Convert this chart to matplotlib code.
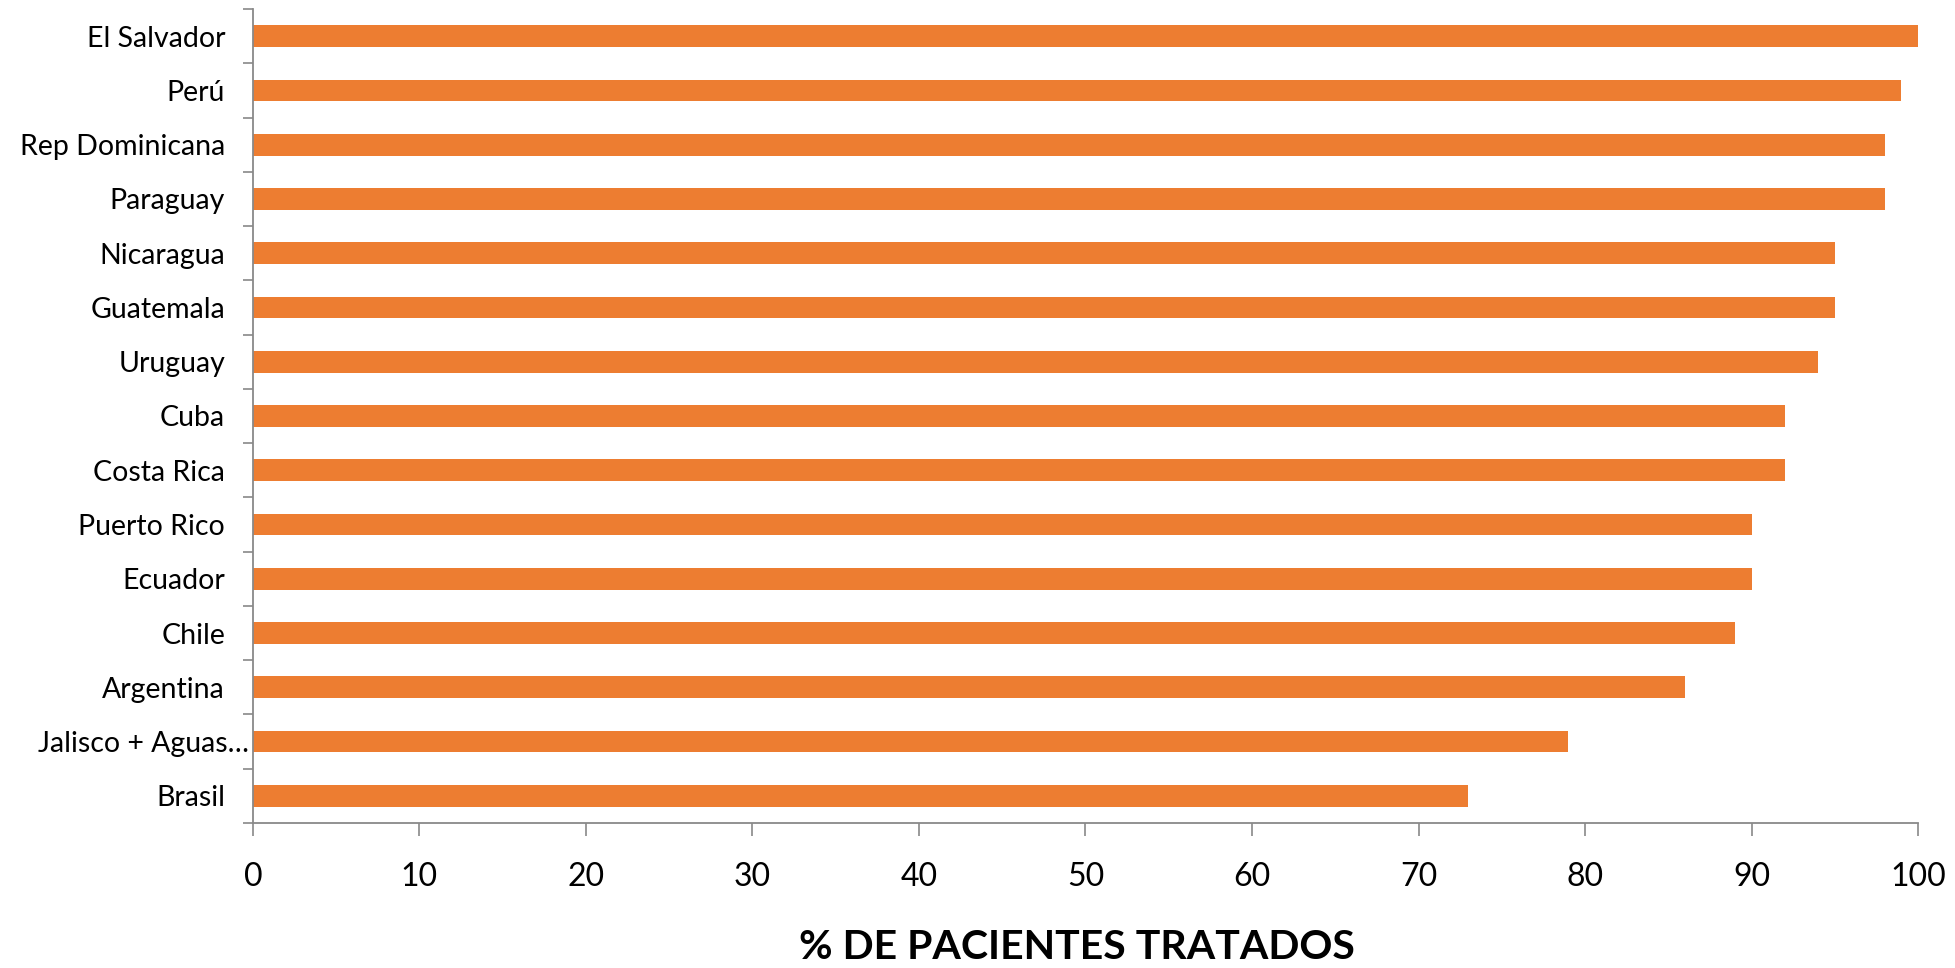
import numpy as np
import matplotlib
matplotlib.use('Agg')
import matplotlib.pyplot as plt
from matplotlib.transforms import ScaledTranslation

# data (top to bottom as shown)
paises = ['El Salvador', 'Perú', 'Rep Dominicana', 'Paraguay', 'Nicaragua',
          'Guatemala', 'Uruguay', 'Cuba', 'Costa Rica', 'Puerto Rico',
          'Ecuador', 'Chile', 'Argentina', 'Jalisco + Aguas…', 'Brasil']
tratados = [100, 99, 98, 98, 95, 95, 94, 92, 92, 90, 90, 89, 86, 79, 73]
x_ticks = list(range(0, 101, 10))

plt.rcParams['font.family'] = ['Lato', 'DejaVu Sans']

fig = plt.figure(figsize=(19.56, 9.68), dpi=100)
ax = fig.add_axes([0.1293, 0.1498, 0.9806 - 0.1293, 0.9907 - 0.1498])

ypos = np.arange(len(paises))[::-1]
ax.barh(ypos, tratados, height=0.4, color='#ED7D31', zorder=2)

ax.set_xlim(0, 100)
ax.set_ylim(-0.5, len(paises) - 0.5)

# category labels at centers, tick marks on boundaries
ax.set_yticks(ypos)
ax.set_yticklabels(paises, fontsize=20.5)
ax.tick_params(axis='y', which='major', length=0, pad=20)
ax.set_yticks(np.arange(-0.5, len(paises), 1.0), minor=True)
ax.tick_params(axis='y', which='minor', length=7, width=1.2, color='#898989')

# the truncated label sits closer to the axis
for lbl in ax.get_yticklabels():
    if lbl.get_text().startswith('Jalisco'):
        lbl.set_transform(lbl.get_transform() + ScaledTranslation(17 / 72, 0, fig.dpi_scale_trans))

ax.set_xticks(x_ticks)
ax.set_xticklabels([str(v) for v in x_ticks], fontsize=23)
ax.tick_params(axis='x', length=9, width=1.2, color='#898989', pad=19)

for side in ['top', 'right']:
    ax.spines[side].set_visible(False)
for side in ['left', 'bottom']:
    ax.spines[side].set_color('#898989')
    ax.spines[side].set_linewidth(1.3)

ax.set_xlabel('% DE PACIENTES TRATADOS', fontsize=29.5, fontweight='bold', va='center')
ax.xaxis.set_label_coords(0.495, -0.153)

fig.savefig('out.png', dpi=100)
plt.close(fig)
